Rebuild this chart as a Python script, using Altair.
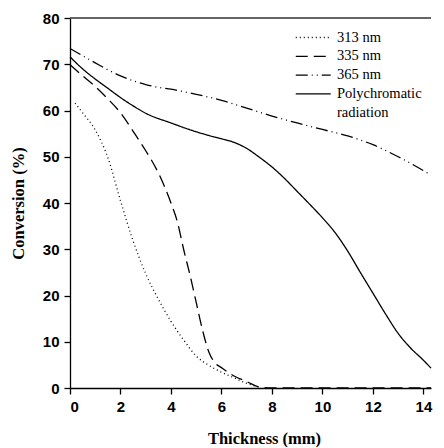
import altair as alt
import pandas as pd

# ---- data ----
x313 = [0.2, 0.5, 1.0, 1.5, 2.0, 2.5, 3.0, 3.5, 4.0, 4.5, 5.0, 5.5, 6.0, 6.5, 7.0, 7.5]
y313 = [61.6, 59.5, 55.8, 49.8, 40.5, 31.8, 24.7, 19.2, 14.4, 10.4, 6.9, 4.9, 3.4, 2.2, 1.0, 0.2]

x335 = [0, 0.5, 1.0, 1.5, 2.0, 2.5, 3.0, 3.5, 4.0, 4.25, 4.5, 4.75, 5.0, 5.25, 5.5, 5.75, 6.0, 6.5, 7.0, 7.5, 8.0, 10.0, 12.0, 14.3]
y335 = [69.9, 67.5, 65.2, 62.5, 59.5, 55.5, 51.3, 46.5, 40.0, 36.0, 30.0, 24.5, 18.5, 12.5, 7.8, 5.4, 4.4, 2.6, 1.4, 0.2, 0, 0, 0, 0]

x365 = [0, 1.0, 1.5, 2.0, 3.0, 3.5, 4.0, 5.0, 6.0, 7.0, 8.0, 9.0, 10.0, 11.0, 12.0, 13.0, 14.0, 14.3]
y365 = [73.4, 70.3, 68.8, 67.5, 65.6, 65.0, 64.6, 63.5, 62.2, 60.5, 58.8, 57.3, 55.9, 54.5, 52.6, 50.0, 47.0, 46.0]

xpoly = [0, 0.5, 1.0, 1.5, 2.0, 2.5, 3.0, 4.0, 5.0, 5.5, 6.0, 6.5, 7.0, 7.5, 8.0, 8.5, 9.0, 9.5, 10.0, 10.5, 11.0, 11.5, 12.0, 12.5, 13.0, 13.5, 14.0, 14.3]
ypoly = [71.6, 69.0, 66.8, 64.8, 62.8, 61.0, 59.4, 57.3, 55.4, 54.6, 53.9, 53.1, 51.8, 49.9, 47.8, 45.3, 42.5, 39.7, 36.8, 33.6, 29.6, 25.0, 20.5, 16.0, 11.8, 8.6, 6.0, 4.3]

series_names = ["313 nm", "335 nm", "365 nm", "Polychromatic radiation"]
dashes = [[1, 3], [12, 6], [12, 4, 1, 4, 1, 4], [1, 0]]
# legend: second line of the last label (entry with an invisible symbol)
legend_domain = series_names + ["radiation"]
legend_dashes = dashes + [[0, 60]]

x_ticks = [0, 2, 4, 6, 8, 10, 12, 14]
y_ticks = [0, 10, 20, 30, 40, 50, 60, 70, 80]

rows = []
for name, xs, ys in zip(series_names, [x313, x335, x365, xpoly], [y313, y335, y365, ypoly]):
    for i, (a, b) in enumerate(zip(xs, ys)):
        rows.append({"series": name, "x": a, "y": b, "order": i})
df = pd.DataFrame(rows)

xscale = alt.Scale(domain=[0, 14.3], nice=False, zero=False)
yscale = alt.Scale(domain=[0, 80], nice=False)

lines = alt.Chart(df).mark_line(interpolate="monotone", strokeWidth=1.3, color="black").encode(
    x=alt.X("x:Q", scale=xscale,
            axis=alt.Axis(values=x_ticks, title="Thickness (mm)", grid=False,
                          tickSize=6, labelPadding=5, titlePadding=16,
                          titleX=194)),
    y=alt.Y("y:Q", scale=yscale,
            axis=alt.Axis(values=y_ticks, title="Conversion (%)", grid=False,
                          tickSize=6, labelPadding=5, titlePadding=16)),
    strokeDash=alt.StrokeDash(
        "series:N",
        scale=alt.Scale(domain=legend_domain, range=legend_dashes),
        legend=alt.Legend(
            title=None, orient="none", legendX=225, legendY=10,
            symbolType="M-1,0H3", symbolSize=306, symbolStrokeWidth=1.3,
            symbolStrokeColor="black",
            labelFont="Liberation Serif", labelFontSize=14.5, labelColor="black",
            labelBaseline="middle", labelOffset=23, rowPadding=2.8,
            labelLimit=300,
            labelExpr="datum.label == 'Polychromatic radiation' ? 'Polychromatic' : datum.label",
        ),
    ),
    order="order:Q",
)

top = alt.Chart(pd.DataFrame({"y": [80]})).mark_rule(color="#333", strokeWidth=1.5).encode(
    y=alt.Y("y:Q", scale=yscale)
)

chart = alt.layer(lines, top).properties(
    width=361, height=370,
    padding={"left": 2, "top": 3, "right": 0, "bottom": 0},
).configure_view(stroke=None).configure_axis(
    domainColor="black", tickColor="black", domainWidth=1.3, tickWidth=1.3,
    labelFont="Liberation Sans", labelFontWeight="bold", labelFontSize=15, labelColor="black",
    titleFont="Liberation Serif", titleFontWeight="bold", titleFontSize=16.5, titleColor="black",
)

chart.save("out.html", embed_options={"renderer": "svg", "actions": False})
